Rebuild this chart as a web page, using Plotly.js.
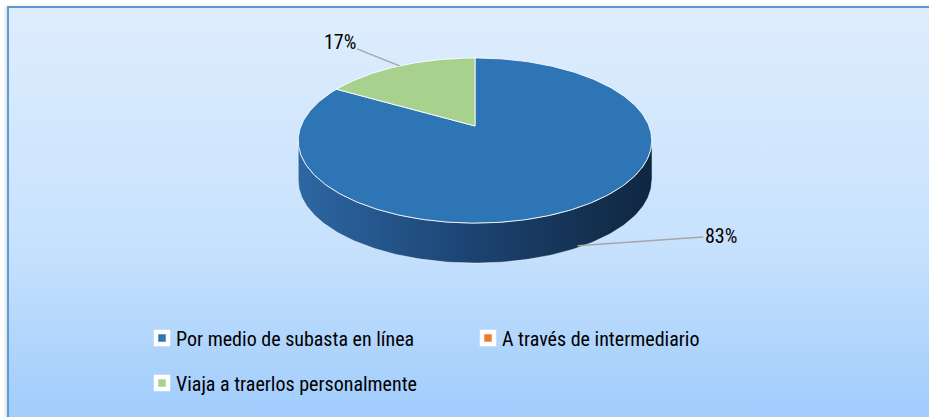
<!DOCTYPE html>
<html><head><meta charset="utf-8">
<script src="https://cdn.plot.ly/plotly-3.0.1.min.js"></script>
<style>
html,body{margin:0;padding:0;background:#fff;overflow:hidden;}
#frame{position:absolute;left:7px;top:6px;width:940px;height:420px;border-left:2px solid #5b9bd5;border-top:2px solid #5b9bd5;background:linear-gradient(to bottom,#deedfd 0%,#c8e2fd 55%,#9ecbfc 100%);box-shadow:-2px 0 3px rgba(0,0,0,0.12);}
#chart{position:absolute;left:0;top:0;width:929px;height:417px;}
/* tighten the gap between legend swatch and its text */
#chart text.legendtext, #chart text.legend2text{transform:translateX(-6px);}
</style></head><body>
<div id="frame"></div>
<div id="chart"></div>
<script>
// ---- data ----
const categories = ["Por medio de subasta en línea", "A través de intermediario", "Viaja a traerlos personalmente"];
const values = [25, 0, 5];
const colors = ["#2e75b6", "#ed7d31", "#a9d18e"];
const pctLabels = ["83%", "0%", "17%"];

// ---- geometry (style constants, pixel-like axis units) ----
const W = 929, H = 417;
const cx = 475, cy = 126, R = 174, R2 = 80, k = 0.176, depth = 40;
const FONT = "'Liberation Sans Narrow', 'Arial Narrow', 'Roboto Condensed', 'DejaVu Sans Condensed', sans-serif";
const total = values.reduce((a, b) => a + b, 0);
const rad = d => d * Math.PI / 180;
// perspective projection of a point on the pie rim (t = degrees clockwise from 12 o'clock)
const proj = t => {
  const a = Math.sin(rad(t)), b = Math.cos(rad(t));
  const s = 1 / (1 + k * b);
  return [cx + R * a * s, cy - R2 * b * s];
};
const tSil = Math.acos(-k) * 180 / Math.PI; // silhouette angle (vertical tangent)

const traces = [];
const annotations = [];
let start = 0;
const slices = values.map((v, i) => {
  const span = v / total * 360;
  const s = { i, a0: start, a1: start + span };
  start += span;
  return s;
});

const arc = (lo, hi, step) => {
  const pts = [];
  const n = Math.max(2, Math.ceil(Math.abs(hi - lo) / step));
  for (let j = 0; j <= n; j++) pts.push(proj(lo + (hi - lo) * j / n));
  return pts;
};

// side walls (front part between the two silhouette angles)
slices.forEach(s => {
  if (s.a1 - s.a0 <= 0) return;
  const lo = Math.max(s.a0, tSil), hi = Math.min(s.a1, 360 - tSil);
  if (hi <= lo) return;
  const topArc = arc(lo, hi, 1);
  const xs = topArc.map(p => p[0]).concat(topArc.slice().reverse().map(p => p[0]));
  const ys = topArc.map(p => p[1]).concat(topArc.slice().reverse().map(p => p[1] + depth));
  traces.push({
    type: 'scatter', mode: 'lines', x: xs, y: ys, fill: 'toself',
    fillgradient: { type: 'horizontal', colorscale: [[0, '#2d67a2'], [0.45, '#1d4676'], [1, '#0f2640']] },
    line: { color: 'rgba(255,255,255,0.55)', width: 0.8 }, showlegend: false, hoverinfo: 'skip'
  });
});

// top faces
slices.forEach(s => {
  if (s.a1 - s.a0 <= 0) return;
  const pts = [[cx, cy]].concat(arc(s.a0, s.a1, 1), [[cx, cy]]);
  traces.push({
    type: 'scatter', mode: 'lines', x: pts.map(p => p[0]), y: pts.map(p => p[1]), fill: 'toself',
    fillcolor: colors[s.i], line: { color: 'rgba(255,255,255,0.85)', width: 1 },
    showlegend: false, hoverinfo: 'skip'
  });
});

// data labels with leader lines
const labelOffsets = { 0: [143, -10, 0.95], 2: [-60, -24, 0] };
slices.forEach(s => {
  if (s.a1 - s.a0 <= 0) return;
  const p = proj((s.a0 + s.a1) / 2);
  const o = labelOffsets[s.i];
  annotations.push({
    x: p[0], y: p[1] + depth * o[2], xref: 'x', yref: 'y',
    text: pctLabels[s.i], showarrow: true, arrowhead: 0, arrowwidth: 1.5, arrowcolor: '#a6a6a6',
    ax: o[0], ay: o[1], font: { family: FONT, size: 20, color: '#000' }
  });
});

// legend entries
categories.forEach((c, i) => {
  traces.push({
    type: 'scatter', mode: 'markers', x: [null], y: [null], name: c,
    marker: { symbol: 'square', size: 12, color: colors[i], line: { color: '#fff', width: 4.5 } },
    legend: i < 2 ? 'legend' : 'legend2', hoverinfo: 'skip'
  });
});

const legendBase = {
  orientation: 'h', bgcolor: 'rgba(0,0,0,0)', borderwidth: 0,
  font: { family: FONT, size: 20, color: '#000' },
  xanchor: 'left', yanchor: 'middle', entrywidth: 281, entrywidthmode: 'pixels'
};

const layout = {
  width: W, height: H, margin: { l: 0, r: 0, t: 0, b: 0 },
  paper_bgcolor: 'rgba(0,0,0,0)', plot_bgcolor: 'rgba(0,0,0,0)',
  xaxis: { range: [0, W], visible: false, fixedrange: true },
  yaxis: { range: [H, 0], visible: false, fixedrange: true },
  showlegend: true,
  legend: Object.assign({}, legendBase, { x: 142 / W, y: 1 - 338 / H }),
  legend2: Object.assign({}, legendBase, { x: 142 / W, y: 1 - 383 / H }),
  annotations: annotations
};

Plotly.newPlot('chart', traces, layout, { displayModeBar: false, staticPlot: true });
</script>
</body></html>
